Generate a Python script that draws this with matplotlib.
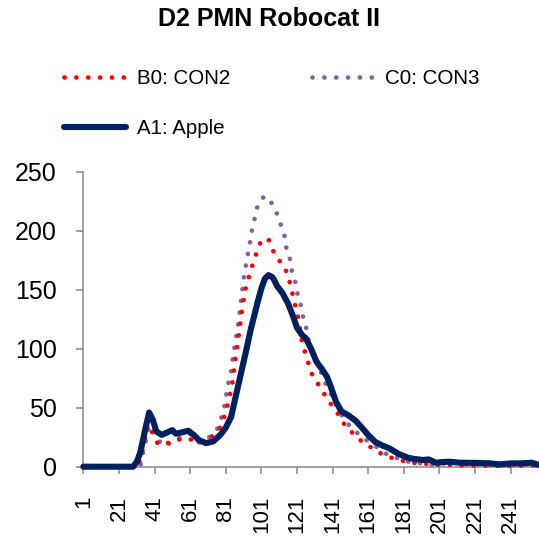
import matplotlib
matplotlib.use("Agg")
import matplotlib.pyplot as plt
from matplotlib.lines import Line2D

plt.rcParams['font.family'] = ['Liberation Sans', 'DejaVu Sans']

title = "D2 PMN Robocat II"
series_labels = ["B0: CON2", "C0: CON3", "A1: Apple"]
tick_categories = list(range(1, 242, 20))
y_ticks = [0, 50, 100, 150, 200, 250]

# B0: CON2 (category, value)
b0_cat = [1, 31, 33, 35, 37, 38, 40, 43, 47, 51, 54, 60, 63, 66, 71, 75, 77, 79,
          81, 83, 84, 85, 86, 87, 88, 89, 90, 91, 92, 93, 94, 96, 98, 100, 102,
          104, 105, 107, 110, 114, 116, 118, 119, 121, 122, 124, 126, 128, 130,
          134, 137, 141, 145, 148, 152, 157, 162, 167, 173, 179, 184, 190, 197,
          203, 209, 215, 222, 230, 240, 250, 257]
b0_val = [0, 0, 6, 20, 35, 36, 28, 19, 19.5, 21, 23, 24, 22, 19.8, 23, 28, 31, 37,
          46, 58, 66, 73, 87, 98, 108, 119, 131, 141, 150, 156, 161, 171, 180, 189,
          192, 194, 193, 185, 176.6, 170, 161, 151, 142, 132, 122.6, 105, 95, 85,
          76, 68, 60, 51, 43, 35, 29, 22, 17, 12, 8, 5.7, 3.4, 3, 2, 1.4, 1.8, 1,
          1, 0.8, 0.8, 1, 1]

# C0: CON3
c0_cat = [1, 33, 35, 37, 38, 40, 43, 46, 51, 56, 61, 66, 71, 76, 78, 80, 81, 82,
          84, 85, 86, 87, 88, 89, 90, 91, 92, 93, 94, 95, 96, 97, 98, 99, 101,
          103, 105, 107, 110, 112, 114, 115, 117, 118, 120, 121, 123, 124, 126,
          127, 129, 132, 136, 140, 144, 148, 152, 157, 162, 167, 172, 178, 184,
          190, 197, 203, 209, 213, 220, 230, 240, 248, 253, 257]
c0_val = [0, 0, 15, 28, 35, 30, 23, 17.5, 21, 25, 28, 20.6, 24, 31, 39, 48.6, 58,
          67.8, 80, 93, 102, 111, 121, 133, 145, 159, 168, 176, 185, 193, 203, 209,
          215, 222, 227, 229.4, 228, 223, 214, 205, 196, 186, 177, 167, 157.6,
          148.6, 138.5, 129.4, 119.5, 110, 100.8, 91.9, 74, 62, 49.5, 39, 32.5, 26,
          20.5, 15.6, 10, 7, 4.2, 3, 1.5, 2.5, 5, 2, 1.5, 1.2, 1.2, 1.5, 2, 1.5]

# A1: Apple
a1_cat = [1, 29, 31, 33, 36, 38, 40, 42, 45, 48, 51, 53, 56, 60, 63, 66, 70, 74,
          78, 81, 84, 87, 90, 93, 95, 97, 99, 101, 103, 105, 107, 108, 110, 113,
          116, 119, 121, 124, 126, 128, 129, 132, 135, 138, 140, 143, 146, 150,
          154, 157, 161, 165, 169, 173, 178, 183, 187, 192, 195, 199, 203, 207,
          212, 222, 229, 235, 241, 248, 253, 257]
a1_val = [0, 0, 4, 12, 33, 46, 40, 30, 27, 29, 31, 28, 29, 30.5, 27, 22.5, 20,
          21.5, 27, 33, 42, 62, 82, 102, 116, 128, 140, 151, 159.5, 162.5, 161,
          159, 153, 147, 138.5, 127, 118, 111.5, 109, 103, 100, 89, 83, 76, 68, 55,
          47, 43.5, 39, 34, 27, 21, 18, 15.5, 11, 7.8, 6.5, 5.7, 6.2, 3.4, 4, 4.2,
          3.4, 3.2, 2.9, 2, 2.8, 2.9, 3.4, 1.4]

RED = "#FF0000"
PURPLE = "#8064A2"
NAVY = "#002060"
AXIS_GREY = "#868686"

W, H = 539, 537
fig = plt.figure(figsize=(W / 100, H / 100), dpi=100)
ax = fig.add_axes([83.3 / W, (H - 466.7) / H, (W - 83.3) / W, (466.7 - 172) / H])

dot_style = (0, (0.01, 2.5))
DOT_LW = 3.4
l_c0, = ax.plot(c0_cat, c0_val, color=PURPLE, lw=DOT_LW, linestyle=dot_style,
                dash_capstyle='round', clip_on=False, zorder=2)
l_b0, = ax.plot(b0_cat, b0_val, color=RED, lw=DOT_LW, linestyle=dot_style,
                dash_capstyle='round', clip_on=False, zorder=3)
l_a1, = ax.plot(a1_cat, a1_val, color=NAVY, lw=4.4, solid_capstyle='round',
                solid_joinstyle='round', clip_on=False, zorder=4)

ax.set_xlim(1, 257)
ax.set_ylim(0, 250)
ax.set_xticks(tick_categories)
ax.set_xticklabels([str(c) for c in tick_categories], rotation=90, fontsize=16)
ax.set_yticks(y_ticks)
ax.set_yticklabels([str(v) for v in y_ticks], fontsize=18)

for side in ("top", "right"):
    ax.spines[side].set_visible(False)
for side in ("left", "bottom"):
    ax.spines[side].set_color(AXIS_GREY)
    ax.spines[side].set_linewidth(1.1)
ax.tick_params(axis='x', direction='out', length=5, width=1.1, color=AXIS_GREY, pad=16)
ax.tick_params(axis='y', direction='out', length=5, width=1.1, color=AXIS_GREY, pad=14)

fig.text(269 / W, 1 - 19 / H, title, ha='center', va='center',
         fontsize=18, fontweight='bold')

handles = [
    Line2D([], [], color=RED, lw=DOT_LW, linestyle=dot_style, dash_capstyle='round'),
    Line2D([], [], color=NAVY, lw=4.4, solid_capstyle='round'),
    Line2D([], [], color=PURPLE, lw=DOT_LW, linestyle=dot_style, dash_capstyle='round'),
]
labels = [series_labels[0], series_labels[2], series_labels[1]]
fig.legend(handles, labels, loc='upper left', bbox_to_anchor=(64 / W, 1 - 69.5 / H),
           ncol=2, frameon=False, fontsize=14.8, handlelength=3.0,
           handletextpad=0.55, columnspacing=4.0, labelspacing=1.5,
           borderpad=0, borderaxespad=0)

fig.savefig("out.png", dpi=100)
